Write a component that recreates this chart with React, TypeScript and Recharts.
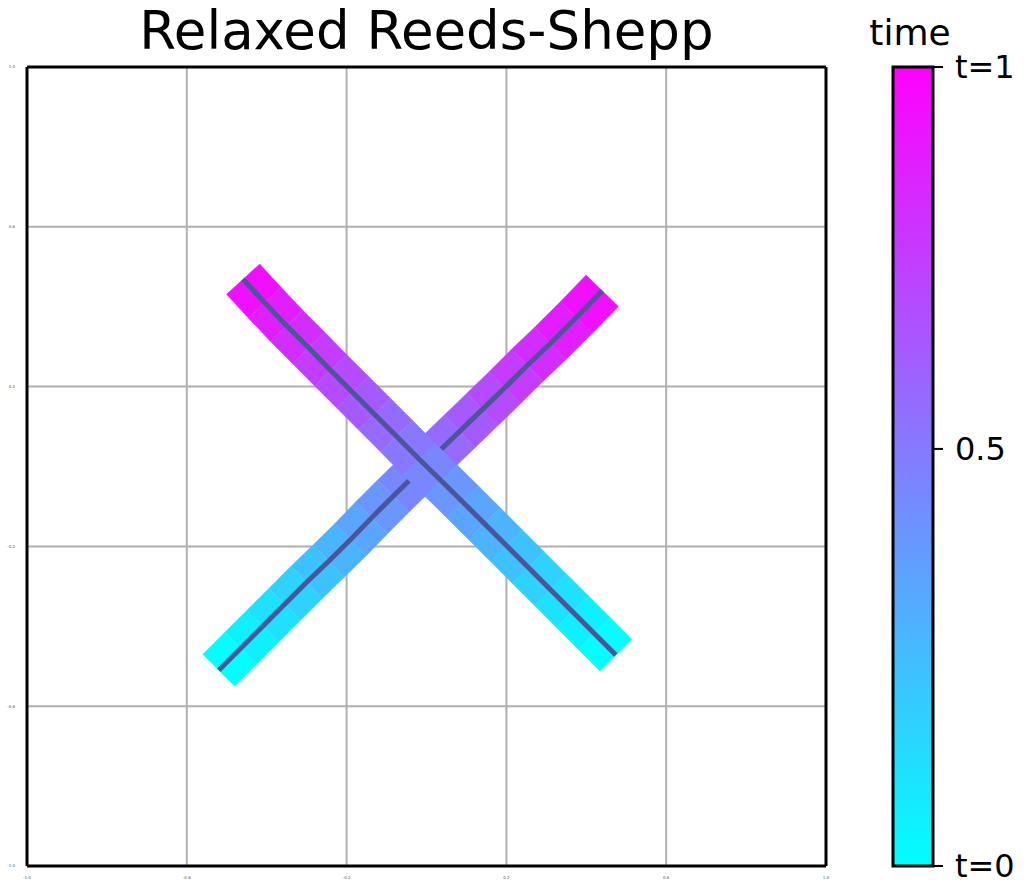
import React from "react";
import { Bar, BarChart, CartesianGrid, Line, LineChart, ReferenceLine, XAxis, YAxis } from "recharts";

// time stamps shared by both trajectories
const timeSteps = [0, 0.059, 0.118, 0.176, 0.235, 0.294, 0.353, 0.412, 0.471, 0.529, 0.588, 0.647, 0.706, 0.765, 0.824, 0.882, 0.941, 1];

// trajectory A: bottom-left -> top-right
const pathAx = [-0.52, -0.465, -0.41, -0.355, -0.3, -0.245, -0.19, -0.137, -0.083, -0.03, 0.025, 0.083, 0.14, 0.196, 0.252, 0.31, 0.375, 0.44];
const pathAy = [-0.51, -0.455, -0.4, -0.345, -0.29, -0.237, -0.183, -0.128, -0.074, -0.022, 0.032, 0.088, 0.143, 0.197, 0.253, 0.308, 0.373, 0.44];

// trajectory B: bottom-right -> top-left
const pathBx = [0.474, 0.42, 0.365, 0.31, 0.255, 0.2, 0.145, 0.09, 0.035, -0.02, -0.075, -0.13, -0.185, -0.24, -0.295, -0.35, -0.405, -0.459];
const pathBy = [-0.472, -0.418, -0.363, -0.308, -0.253, -0.198, -0.143, -0.088, -0.034, 0.02, 0.076, 0.131, 0.186, 0.241, 0.297, 0.352, 0.41, 0.469];

const axisTicks = [-1, -0.6, -0.2, 0.2, 0.6, 1];
const colorbarTicks = [0, 0.522, 1];
const colorbarLabels = ["t=0", "0.5", "t=1"];
const colorbarData = [{ name: "time", value: 1 }];

const pathA = pathAx.map((x, i) => ({ x, y: pathAy[i], t: timeSteps[i] }));
const pathB = pathBx.map((x, i) => ({ x, y: pathBy[i], t: timeSteps[i] }));

const FONT = "DejaVu Sans";
const BAND_HALF = 22.5;
const PATH_LINE = "#4b5699";

const cool = (t: number) => `rgb(${Math.round(255 * t)}, ${Math.round(255 * (1 - t))}, 255)`;

const unit = (x: number, y: number) => {
  const l = Math.hypot(x, y) || 1;
  return [x / l, y / l];
};

// draws the whole swept band + centre line once, from the first dot's points
const TrajectoryDot = (props: any) => {
  const { index, points } = props;
  const key = `traj-${index}`;
  if (index !== 0 || !points || points.length < 2) return <g key={key} />;
  const n = points.length;
  const segs = [];
  for (let i = 0; i < n - 1; i++) segs.push(unit(points[i + 1].x - points[i].x, points[i + 1].y - points[i].y));
  const offs = points.map((_: any, j: number) => {
    const a = segs[Math.max(0, j - 1)];
    const b = segs[Math.min(n - 2, j)];
    const d = unit(a[0] + b[0], a[1] + b[1]);
    const k = BAND_HALF / Math.max(0.5, d[0] * b[0] + d[1] * b[1]);
    return [-d[1] * k, d[0] * k];
  });
  const polys = [];
  for (let i = 0; i < n - 1; i++) {
    const p = points[i];
    const q = points[i + 1];
    const o = offs[i];
    const r = offs[i + 1];
    const poly = [
      [p.x + o[0], p.y + o[1]],
      [q.x + r[0], q.y + r[1]],
      [q.x - r[0], q.y - r[1]],
      [p.x - o[0], p.y - o[1]]
    ]
      .map((c) => c.join(","))
      .join(" ");
    polys.push(<polygon key={i} points={poly} fill={cool(p.payload.t)} stroke={cool(p.payload.t)} strokeWidth={0.4} />);
  }
  const line = points.map((p: any) => `${p.x},${p.y}`).join(" ");
  return (
    <g key={key}>
      {polys}
      <polyline points={line} fill="none" stroke={PATH_LINE} strokeWidth={5} />
    </g>
  );
};

const tinyTick = { fontSize: 4, fill: "#555", stroke: "none", fontFamily: FONT };

export default function App() {
  return (
    <div style={{ position: "absolute", left: 0, top: 0, width: 1025, height: 893, background: "#fff" }}>
      <div
        style={{
          position: "absolute",
          left: 27,
          width: 799,
          top: 0,
          textAlign: "center",
          fontFamily: FONT,
          fontSize: 53,
          color: "#000"
        }}
      >
        Relaxed Reeds-Shepp
      </div>
      <div style={{ position: "absolute", left: 0, top: 0 }}>
        <LineChart width={850} height={893} margin={{ top: 67, right: 24, bottom: 0, left: 0 }}>
          <CartesianGrid stroke="#b0b0b0" strokeWidth={2} />
          <XAxis
            type="number"
            dataKey="x"
            domain={[-1, 1]}
            ticks={axisTicks}
            tickFormatter={(v: number) => v.toFixed(1)}
            height={27}
            axisLine={false}
            tickLine={false}
            tickSize={0}
            tickMargin={10}
            tick={tinyTick}
            allowDataOverflow
          />
          <YAxis
            type="number"
            dataKey="y"
            domain={[-1, 1]}
            ticks={axisTicks}
            tickFormatter={(v: number) => v.toFixed(1)}
            width={27}
            axisLine={false}
            tickLine={false}
            tickSize={0}
            tickMargin={12}
            tick={tinyTick}
            allowDataOverflow
          />
          <Line data={pathA} dataKey="y" stroke="none" dot={TrajectoryDot} activeDot={false} isAnimationActive={false} />
          <Line data={pathB} dataKey="y" stroke="none" dot={TrajectoryDot} activeDot={false} isAnimationActive={false} />
          <ReferenceLine x={-1} stroke="#000" strokeWidth={3} />
          <ReferenceLine x={1} stroke="#000" strokeWidth={3} />
          <ReferenceLine y={-1} stroke="#000" strokeWidth={3} />
          <ReferenceLine y={1} stroke="#000" strokeWidth={3} />
        </LineChart>
      </div>
      <div
        style={{
          position: "absolute",
          left: 850,
          width: 120,
          top: 12,
          textAlign: "center",
          fontFamily: FONT,
          fontSize: 36,
          color: "#000"
        }}
      >
        time
      </div>
      <div style={{ position: "absolute", left: 850, top: 0 }}>
        <BarChart width={175} height={893} data={colorbarData} margin={{ top: 67, right: 0, bottom: 27, left: 43 }} barCategoryGap={0}>
          <defs>
            <linearGradient id="coolGrad" x1="0" y1="0" x2="0" y2="1">
              <stop offset="0%" stopColor="#ff00ff" />
              <stop offset="100%" stopColor="#00ffff" />
            </linearGradient>
          </defs>
          <XAxis dataKey="name" hide />
          <YAxis
            orientation="right"
            type="number"
            domain={[0, 1]}
            ticks={colorbarTicks}
            tickFormatter={(v: number) => colorbarLabels[colorbarTicks.indexOf(v)]}
            width={92}
            axisLine={false}
            tickLine={{ stroke: "#000", strokeWidth: 2 }}
            tickSize={10}
            tickMargin={12}
            tick={{ fontSize: 32, fill: "#000", fontFamily: FONT }}
            interval={0}
          />
          <Bar dataKey="value" fill="url(#coolGrad)" stroke="#000" strokeWidth={3} isAnimationActive={false} />
        </BarChart>
      </div>
    </div>
  );
}
